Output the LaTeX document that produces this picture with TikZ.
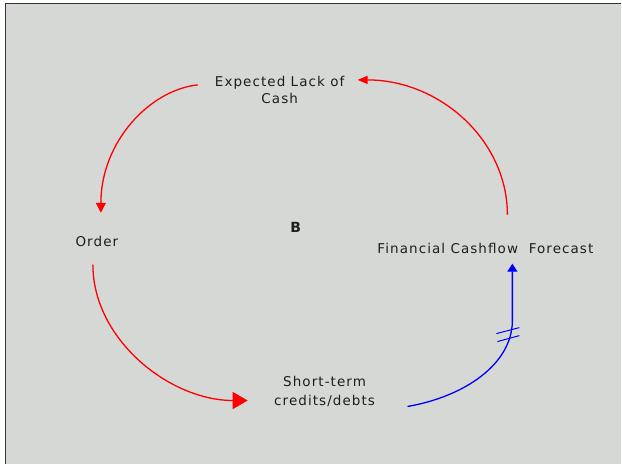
\documentclass[tikz,border=0pt]{standalone}
\usepackage{fontspec}
\newfontfamily\pix[LetterSpace=8]{DejaVu Sans}
\newfontfamily\pixb{DejaVu Sans Bold}
\usetikzlibrary{arrows.meta}
\definecolor{bg}{RGB}{213,216,213}
\definecolor{txt}{RGB}{30,30,30}
\begin{document}
\begin{tikzpicture}[x=1pt,y=-1pt,
 lbl/.style={font=\pix\fontsize{13.5}{17}\selectfont, text=txt, align=center, inner sep=0pt},
 redlink/.style={draw=red, line width=1.3pt},
 bluelink/.style={draw=blue, line width=1.3pt},
]
\fill[white] (0,0) rectangle (622,465);
\fill[bg] (5,3) rectangle (622,465);
\draw[line width=1.5pt, black!80] (5.5,465) -- (5.5,3.5) -- (622,3.5);
\useasboundingbox (0,0) rectangle (622,465);

\node[lbl] (elc) at (280,90.5) {Expected Lack of\\Cash};
\node[lbl] (order) at (97,242) {Order};
\node[font=\pixb\fontsize{14}{15}\selectfont, text=txt, inner sep=0pt] (b) at (296,228) {B};
\node[lbl] (fcf) at (486,249) {Financial Cashflow\ \ Forecast};
\node[lbl, font=\pix\fontsize{13.5}{19}\selectfont] (stc) at (325,392) {Short-term\\credits/debts};

\coordinate (elcL) at (198,85);
\coordinate (orderT) at (101,213);
\coordinate (orderB) at (93,265);
\coordinate (stcL) at (248,401);
\coordinate (stcR) at (408,407);
\coordinate (fcfB) at (513,264);
\coordinate (fcfT) at (508,215);
\coordinate (elcR) at (358,80);

\draw[redlink, -{Triangle[length=10pt,width=10pt]}] (elcL) .. controls (150,90) and (101,142) .. (orderT);
\draw[redlink, -{Triangle[length=10pt,width=8pt]}] (fcfT) .. controls (508,141) and (441,80) .. (elcR);
\draw[redlink, -{Triangle[length=15pt,width=17pt]}] (orderB) .. controls (93,340) and (170,401) .. (stcL);
\draw[bluelink, -{Triangle[length=8pt,width=10pt]}] (stcR) .. controls (465,397) and (512,365) .. (513,322) -- (fcfB);
\draw[blue, line width=1pt] (497,334) -- (520,328);
\draw[blue, line width=1pt] (498,342) -- (520,336);
\end{tikzpicture}
\end{document}
